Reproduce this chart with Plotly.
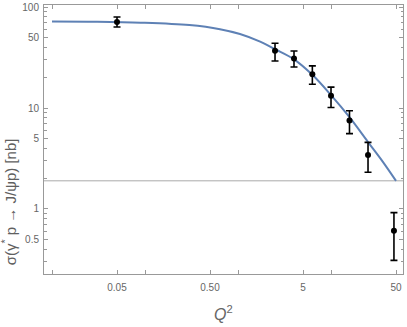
import plotly.graph_objects as go

# Measured points (Q^2, sigma) with asymmetric errors (upper and lower ends)
q2_data = [0.05, 2.5, 4.0, 6.3, 10.0, 15.8, 25.0, 47.5]
sigma_data = [71.0, 36.9, 31.0, 21.6, 13.2, 7.5, 3.43, 0.61]
sigma_hi = [79.6, 43.7, 36.7, 26.1, 16.1, 9.4, 4.57, 0.92]
sigma_lo = [63.4, 29.2, 25.5, 17.2, 10.1, 5.57, 2.31, 0.31]

# Fit curve
q2_curve = [0.01, 0.03, 0.09, 0.3, 0.64, 1.05, 1.73, 2.5, 4.0, 6.3, 10.0, 15.8, 25.0, 35.0, 50.0]
sigma_curve = [72.0, 71.5, 70.0, 66.2, 60.3, 54.0, 45.4, 38.2, 30.3, 21.3, 13.4, 8.1, 4.6, 3.05, 1.9]

# Horizontal axis line level
axis_line_y = 1.9

x_tickvals = [0.05, 0.5, 5, 50]
x_ticktext = ["0.05", "0.50", "5", "50"]
x_minor = [0.01, 0.1, 1, 10]
y_tickvals = [0.5, 1, 5, 10, 50, 100]
y_ticktext = ["0.5", "1", "5", "10", "50", "100"]
y_minor = [0.2, 0.3, 0.4, 0.6, 0.7, 0.8, 0.9, 2, 3, 4, 6, 7, 8, 9,
           20, 30, 40, 60, 70, 80, 90]

x_title = "<i>Q</i><sup>2</sup>"
y_title = "σ(γ<sup>*</sup> p → J/ψp) [nb]"

err_plus = [h - s for h, s in zip(sigma_hi, sigma_data)]
err_minus = [s - l for s, l in zip(sigma_data, sigma_lo)]

fig = go.Figure()
fig.add_trace(go.Scatter(
    x=q2_curve, y=sigma_curve, mode="lines", line_shape="spline",
    line=dict(color="#5E81B5", width=2), hoverinfo="skip", cliponaxis=False))
fig.add_trace(go.Scatter(
    x=q2_data, y=sigma_data, mode="markers", cliponaxis=False,
    marker=dict(color="black", size=6),
    error_y=dict(type="data", symmetric=False, array=err_plus, arrayminus=err_minus,
                 color="black", thickness=1.6, width=3.5)))

fig.add_shape(type="line", xref="paper", x0=0, x1=1, yref="y",
              y0=axis_line_y, y1=axis_line_y, line=dict(color="#aaaaaa", width=1), layer="below")

fig.add_annotation(text=x_title, xref="paper", yref="paper", x=0.5, y=-0.145,
                   xanchor="center", yanchor="middle", showarrow=False,
                   font=dict(size=16, color="#666666"))
fig.add_annotation(text=y_title, xref="paper", yref="paper", x=-0.098, y=0.27,
                   xanchor="center", yanchor="middle", showarrow=False, textangle=-90,
                   font=dict(size=15, color="#606060"))

frame = "#999999"
fig.update_layout(
    width=407, height=327, showlegend=False,
    paper_bgcolor="white", plot_bgcolor="white",
    margin=dict(l=44, r=4, t=5, b=53, autoexpand=False),
    font=dict(family="Liberation Sans, Arial, sans-serif", color="#666666", size=10),
    xaxis=dict(type="log", range=[-2.086, 1.774], showgrid=False, zeroline=False,
               automargin=False,
               showline=True, linecolor=frame, linewidth=1, mirror="ticks",
               ticks="inside", ticklen=4, tickcolor=frame, tickwidth=1,
               tickmode="array", tickvals=x_tickvals, ticktext=x_ticktext,
               minor=dict(tickmode="array", tickvals=x_minor, ticks="inside",
                          ticklen=4, tickcolor=frame, showgrid=False),
               tickfont=dict(size=10, color="#666666"), ticklabelstandoff=4),
    yaxis=dict(type="log", range=[-0.644, 2.020], showgrid=False, zeroline=False,
               automargin=False,
               showline=True, linecolor=frame, linewidth=1, mirror="ticks",
               ticks="inside", ticklen=4, tickcolor=frame, tickwidth=1,
               tickmode="array", tickvals=y_tickvals, ticktext=y_ticktext,
               minor=dict(tickmode="array", tickvals=y_minor, ticks="inside",
                          ticklen=2.5, tickcolor=frame, showgrid=False),
               tickfont=dict(size=10, color="#666666"), ticklabelstandoff=2),
)

fig.write_html("out.html", config={"displayModeBar": False},
               post_script="document.body.style.margin='0';document.body.style.overflow='hidden';")
